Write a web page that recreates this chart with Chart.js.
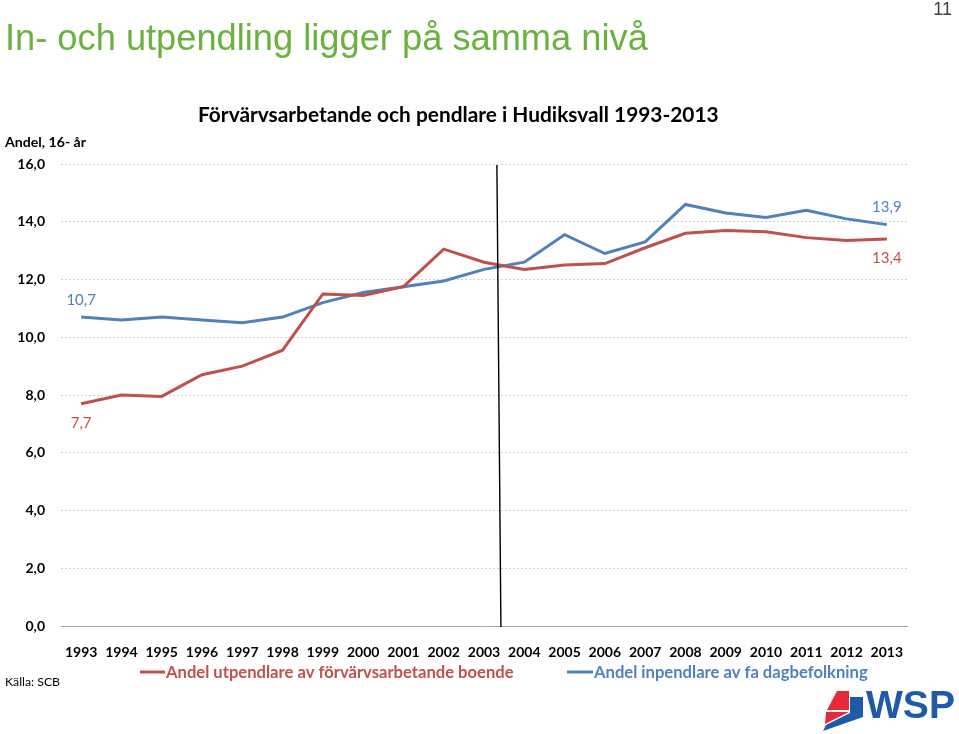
<!DOCTYPE html>
<html>
<head>
<meta charset="utf-8">
<script src="https://cdn.jsdelivr.net/npm/chart.js@4.4.0/dist/chart.umd.min.js"></script>
<style>
  html, body { margin: 0; padding: 0; background: #ffffff; }
  #wrap { width: 959px; height: 734px; position: relative; }
</style>
</head>
<body>
<div id="wrap"><canvas id="c" width="959" height="734"></canvas></div>
<script>
// ---- Data ----
const years = ['1993','1994','1995','1996','1997','1998','1999','2000','2001','2002','2003','2004','2005','2006','2007','2008','2009','2010','2011','2012','2013'];
const utpendlare = [7.7, 8.0, 7.95, 8.7, 9.0, 9.55, 11.5, 11.45, 11.75, 13.05, 12.6, 12.35, 12.5, 12.55, 13.1, 13.6, 13.7, 13.65, 13.45, 13.35, 13.4];
const inpendlare = [10.7, 10.6, 10.7, 10.6, 10.5, 10.7, 11.2, 11.55, 11.75, 11.95, 12.35, 12.6, 13.55, 12.9, 13.3, 14.6, 14.3, 14.15, 14.4, 14.1, 13.9];
const seriesNames = ['Andel utpendlare av förvärvsarbetande boende', 'Andel inpendlare av fa dagbefolkning'];
const yMin = 0, yMax = 16, yStep = 2;
const pageTitle = 'In- och utpendling ligger på samma nivå';
const chartTitle = 'Förvärvsarbetande och pendlare i Hudiksvall 1993-2013';
const yAxisTitle = 'Andel, 16- år';
const sourceText = 'Källa: SCB';
const pageNumber = '11';

const RED = '#C0504D';
const BLUE = '#4F81BD';
const GREEN = '#6AB23E';
const CAL = "Lato, 'Open Sans', sans-serif";
const ARIAL = "'Liberation Sans', Arial, sans-serif";

function fmt(v) { return v.toFixed(1).replace('.', ','); }

function fitText(ctx, text, weight, family, x, y, targetW, color, align) {
  ctx.save();
  ctx.font = weight + ' 100px ' + family;
  const w = ctx.measureText(text).width;
  const size = 100 * targetW / w;
  ctx.font = weight + ' ' + size.toFixed(2) + 'px ' + family;
  ctx.fillStyle = color;
  ctx.textAlign = align || 'left';
  ctx.textBaseline = 'alphabetic';
  ctx.fillText(text, x, y);
  ctx.restore();
}

const decorPlugin = {
  id: 'decor',
  afterDraw(chart) {
    const ctx = chart.ctx;
    const xs = chart.scales.x, ys = chart.scales.y;
    // page title, page number
    fitText(ctx, pageTitle, 'normal', ARIAL, 5, 50, 643, GREEN);
    ctx.save();
    ctx.font = 'normal 18px ' + ARIAL;
    ctx.fillStyle = '#404040';
    ctx.textAlign = 'right';
    ctx.textBaseline = 'alphabetic';
    ctx.fillText(pageNumber, 952, 15);
    ctx.restore();
    // chart title, axis title, source
    fitText(ctx, chartTitle, 'bold', CAL, 198, 122, 521, '#000000');
    fitText(ctx, yAxisTitle, 'bold', CAL, 5, 147, 81, '#000000');
    fitText(ctx, sourceText, 'normal', CAL, 5, 686, 55, '#000000');

    // vertical marker line between 2003 and 2004
    const step = xs.getPixelForValue(1) - xs.getPixelForValue(0);
    const x0 = xs.getPixelForValue(10);
    ctx.save();
    ctx.strokeStyle = '#000000';
    ctx.lineWidth = 1.4;
    ctx.beginPath();
    ctx.moveTo(x0 + 0.32 * step, ys.top + 1);
    ctx.lineTo(x0 + 0.42 * step, ys.bottom + 1);
    ctx.stroke();
    ctx.restore();

    // data labels at first/last points
    ctx.save();
    ctx.font = 'normal 15px ' + CAL;
    ctx.textAlign = 'center';
    ctx.textBaseline = 'middle';
    const last = years.length - 1;
    ctx.fillStyle = BLUE;
    ctx.fillText(fmt(inpendlare[0]), xs.getPixelForValue(0), ys.getPixelForValue(inpendlare[0]) - 17);
    ctx.fillText(fmt(inpendlare[last]), xs.getPixelForValue(last), ys.getPixelForValue(inpendlare[last]) - 17);
    ctx.fillStyle = RED;
    ctx.fillText(fmt(utpendlare[0]), xs.getPixelForValue(0), ys.getPixelForValue(utpendlare[0]) + 19);
    ctx.fillText(fmt(utpendlare[last]), xs.getPixelForValue(last), ys.getPixelForValue(utpendlare[last]) + 19);
    ctx.restore();

    // legend
    ctx.save();
    ctx.lineWidth = 3;
    ctx.strokeStyle = RED;
    ctx.beginPath(); ctx.moveTo(140, 672); ctx.lineTo(165, 672); ctx.stroke();
    ctx.strokeStyle = BLUE;
    ctx.beginPath(); ctx.moveTo(567, 672); ctx.lineTo(593, 672); ctx.stroke();
    ctx.restore();
    fitText(ctx, seriesNames[0], 'bold', CAL, 166, 678, 348, RED);
    fitText(ctx, seriesNames[1], 'bold', CAL, 594, 678, 274, BLUE);

    // WSP logo
    ctx.save();
    ctx.fillStyle = '#E52B38';
    ctx.beginPath();
    ctx.moveTo(837, 691); ctx.lineTo(849, 691); ctx.lineTo(849, 710); ctx.lineTo(827, 710); ctx.closePath();
    ctx.fill();
    ctx.beginPath();
    ctx.moveTo(826, 712); ctx.lineTo(849, 712); ctx.lineTo(825, 724); ctx.closePath();
    ctx.fill();
    ctx.fillStyle = '#1E5AA8';
    ctx.fillRect(850, 697, 13, 19);
    ctx.beginPath();
    ctx.moveTo(850, 713); ctx.lineTo(863, 713); ctx.lineTo(863, 717); ctx.lineTo(823, 731); ctx.lineTo(826, 725); ctx.closePath();
    ctx.fill();
    ctx.restore();
    fitText(ctx, 'WSP', 'bold', ARIAL, 866, 718, 89, '#1E5AA8');
  }
};

new Chart(document.getElementById('c'), {
  type: 'line',
  data: {
    labels: years,
    datasets: [
      { label: seriesNames[0], data: utpendlare, borderColor: RED, backgroundColor: RED, borderWidth: 3, pointRadius: 0, tension: 0, fill: false },
      { label: seriesNames[1], data: inpendlare, borderColor: BLUE, backgroundColor: BLUE, borderWidth: 3, pointRadius: 0, tension: 0, fill: false }
    ]
  },
  options: {
    responsive: false,
    animation: false,
    devicePixelRatio: 1,
    layout: { padding: { left: 0, right: 52, top: 164, bottom: 0 } },
    plugins: { legend: { display: false }, title: { display: false }, tooltip: { enabled: false } },
    scales: {
      x: {
        type: 'category',
        offset: true,
        grid: { display: false },
        border: { display: true, color: '#a6a6a6', width: 1 },
        ticks: { color: '#000000', font: { family: CAL, size: 14, weight: 'bold' }, padding: 10, maxRotation: 0, autoSkip: false },
        afterFit(scale) { scale.height = 108; }
      },
      y: {
        min: yMin, max: yMax,
        grid: { color: '#d0d0d0', lineWidth: 1, drawTicks: false },
        border: { display: false, dash: [2, 2] },
        ticks: { stepSize: yStep, color: '#000000', font: { family: CAL, size: 14, weight: 'bold' }, padding: 16, callback: (v) => fmt(v) },
        afterFit(scale) { scale.width = 61; }
      }
    }
  },
  plugins: [decorPlugin]
});
</script>
</body>
</html>
